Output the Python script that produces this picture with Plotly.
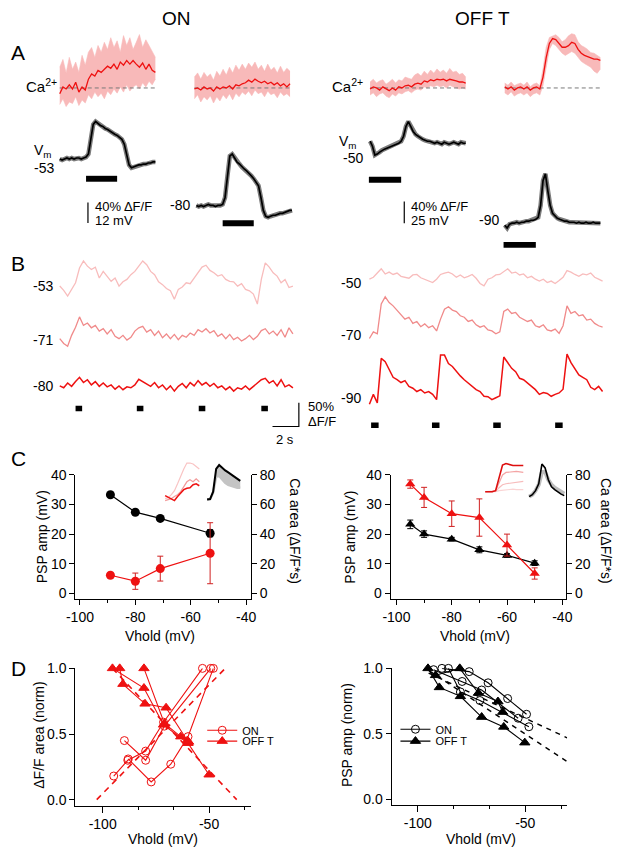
import numpy as np
import plotly.graph_objects as go

W, H = 622, 852
FONT = "Liberation Sans, Arial, Helvetica, sans-serif"
RED = "#ee1111"
BAND_PINK = "#f8b9b9"
LIGHT_PINK = "#f8bcbc"
MID_PINK = "#f08a8a"

# ======================= DATA =======================
# ---- Panel A : averaged responses (Ca in %dF/F, Vm in mV re. holding level)
A_DUR_S = 4.0
A_ON_STIM = [1.1, 2.4]
A_OFF_STIM = [-0.05, 1.3]
A_ON_HOLD = ["-53", "-80"]
A_OFF_HOLD = ["-50", "-90"]
A_ON_SCALE_TXT = ["40% ΔF/F", "12 mV"]
A_OFF_SCALE_TXT = ["40% ΔF/F", "25 mV"]
A_ON_SCALE_MV = 12
A_OFF_SCALE_MV = 25

A_ON_CA53_MEAN = [-11, 2, -2, 6, -2, 11, -8, 2, -4, 17, 27, 23, 34, 30, 36, 42, 38, 46, 36, 50, 44, 53, 46, 53, 46, 40, 48, 36, 46, 34, 30]
A_ON_CA53_HI = [40, 55, 29, 59, 36, 50, 30, 63, 44, 69, 78, 59, 82, 69, 88, 74, 97, 78, 91, 69, 101, 82, 97, 74, 88, 103, 78, 93, 82, 69, 59]
A_ON_CA53_LO = [-32, -21, -36, -27, -30, -17, -34, -23, -29, -13, -21, -8, -17, -10, -21, -6, -13, -2, -10, 2, -8, 6, -6, 2, 6, -2, 10, 2, 13, 6, 17]
A_ON_CA80_MEAN = [-2, 0, -4, 2, -2, 0, -6, 2, -2, 2, 0, 4, -2, 6, 4, 8, 10, 15, 11, 17, 13, 10, 13, 8, 11, 6, 10, 4, 8, 2, 8]
A_ON_CA80_HI = [21, 29, 17, 30, 21, 27, 15, 32, 23, 36, 25, 40, 29, 44, 34, 46, 36, 48, 40, 50, 36, 44, 32, 46, 34, 40, 29, 42, 30, 38, 32]
A_ON_CA80_LO = [-21, -13, -27, -17, -23, -15, -29, -17, -25, -13, -21, -11, -23, -10, -17, -8, -13, -6, -15, -4, -11, -8, -17, -6, -13, -10, -19, -8, -15, -11, -17]
A_OFF_CA50_MEAN = [-2, 2, 0, -4, 2, -2, -5, 0, -4, 2, 0, 4, 5, 2, 7, 9, 7, 13, 11, 15, 13, 16, 15, 16, 13, 16, 15, 13, 11, 11, 9]
A_OFF_CA50_HI = [11, 16, 9, 13, 15, 7, 11, 16, 9, 15, 13, 20, 18, 16, 24, 27, 22, 31, 25, 33, 27, 35, 29, 33, 27, 36, 29, 31, 25, 27, 20]
A_OFF_CA50_LO = [-13, -9, -16, -11, -9, -15, -18, -11, -15, -9, -11, -7, -5, -9, -4, -2, -4, 2, 0, 4, 2, 5, 2, 4, 0, 5, 2, 0, -2, 0, -2]
A_OFF_CA90_MEAN = [2, -2, 2, -4, 0, 2, -2, 2, -4, 0, 2, -2, 20, 56, 82, 91, 89, 82, 75, 75, 78, 84, 82, 71, 64, 60, 58, 56, 53, 53, 51]
A_OFF_CA90_HI = [9, 5, 11, 4, 7, 9, 5, 11, 2, 7, 9, 4, 35, 75, 93, 96, 98, 93, 85, 89, 96, 100, 98, 85, 78, 75, 71, 65, 64, 60, 56]
A_OFF_CA90_LO = [-9, -13, -7, -15, -11, -9, -13, -9, -16, -11, -9, -13, 5, 38, 71, 82, 78, 71, 64, 60, 64, 67, 64, 56, 49, 45, 42, 38, 31, 27, 35]

A_ON_VM53 = [0, -0.6, 0, 0.6, 0, 0.6, 0, 0.6, 0.6, 0, 0.6, 1.1, 2.9, 10.3, 20, 21.7, 20.6, 19.4, 18.9, 17.7, 17.1, 16, 15.4, 14.3, 13.7, 12.6, 11.4, 8.6, 1.7, -3.4, -5.1, -4.6, -4, -3.4, -3.4, -2.9, -2.9, -2.3, -2.3, -1.7, -1.7]
A_ON_VM80 = [0, -0.6, 0, -0.6, 0, 0.6, 0, 0, -0.6, 0, 0, 0.6, 4.6, 17.1, 28.6, 29.7, 27.4, 25.1, 24, 22.3, 21.1, 20, 18.8, 17.1, 15.4, 13.7, 11.4, 4.6, -2.9, -6.3, -6.9, -6.3, -5.7, -5.7, -5.1, -4.6, -4.6, -4, -3.4, -2.9, -2.9]
A_OFF_VM50 = [2.3, -3.4, -13.6, -12.5, -10.2, -8, -6.8, -5.7, -4.5, -3.4, -2.3, -1.1, 0, 2.3, 8, 19.3, 25, 19.3, 13.6, 10.2, 8, 5.7, 4.5, 3.4, 2.3, 2.3, 1.1, 0, 1.1, 0, -1.1, 1.1, 0, -1.1, 0, 1.1, 0, -1.1, 1.1, 0, 0]
A_OFF_VM90 = [-2.3, -5.7, -1.1, 0, 0, 1.1, 0, 1.1, 1.1, 2.3, 2.3, 3.4, 3.4, 4.5, 6.8, 20.5, 48.9, 56.8, 37.5, 20.5, 11.4, 8, 5.7, 4.5, 3.4, 2.3, 2.3, 1.1, 1.1, 1.1, 0, 1.1, 0, 0, 1.1, 0, 0, 1.1, 0, 0, 0]

# ---- Panel B : repeated stimulation, %dF/F, 0.3 s samples
B_DT = 0.3
B_STIM_DUR = 0.5
B_ON_STIM = [1.2, 5.85, 10.55, 15.3]
B_OFF_STIM = [0.13, 4.75, 9.4, 14.1]
B_ON_HOLD = ["-53", "-71", "-80"]
B_OFF_HOLD = ["-50", "-70", "-90"]
B_SCALE_PCT = 50
B_SCALE_S = 2
B_ON_53 = [0, -9, -21, -7, 7, 38, 53, 42, 35, 40, 17, 31, 21, 10, 17, 0, 9, 14, 24, 31, 42, 53, 45, 31, 24, 9, 3, -5, -10, -28, -7, -2, 7, 5, 17, 28, 40, 44, 33, 28, 21, 24, 14, 10, 9, 0, 5, -7, -10, -17, -38, 14, 49, 40, 28, 21, 7, 14, -3, 0]
B_ON_71 = [0, -10, -16, 7, 24, 46, 28, 33, 23, 28, 16, 21, 10, 19, 5, 0, 7, -3, 3, 16, 23, 26, 14, 19, 7, 16, 2, 10, 0, 9, -2, 7, 3, 12, 7, 19, 14, 21, 12, 17, 5, 10, 0, 9, -2, 3, -5, 0, 7, -2, 5, 17, 21, 10, 16, 7, 19, 3, 23, 10]
B_ON_80 = [1, -3, 7, 0, 10, 19, 8, 14, 3, 10, 0, 7, -1, 3, -6, 1, -7, -1, -3, 3, 15, 10, 6, 0, 8, -3, 3, -7, 1, -10, 0, 6, -3, 8, 1, 12, 3, 8, 0, 6, -3, 1, -7, -1, -10, -3, -6, 1, -7, 0, 6, 14, 17, 7, 12, 1, 14, -1, 3, -3]
B_OFF_50 = [-3, 1, 10, 19, 8, 12, 7, 10, 3, 1, -1, 6, 7, 0, -3, -7, -10, -3, 7, 10, 12, 8, 1, 6, 0, 3, 7, -1, -12, -17, -3, 0, 6, 7, 14, 19, 10, 12, 6, 8, 0, 3, -3, -7, -3, -10, -7, -12, -6, 1, 15, 12, 7, 3, 8, 6, 10, 1, -3, -7]
B_OFF_70 = [-17, -3, -7, 56, 71, 59, 52, 43, 35, 24, 28, 15, 19, 8, 14, 6, 10, -1, 24, 45, 50, 43, 40, 31, 28, 19, 22, 12, 7, 10, 1, -1, -7, -3, 40, 45, 36, 38, 28, 24, 19, 22, 10, 7, 12, 1, -1, 3, -6, 10, 52, 36, 40, 31, 33, 22, 24, 15, 10, 7]
B_OFF_90 = [-24, -3, -21, 73, 66, 49, 33, 28, 22, 26, 14, 10, 3, 7, 0, 3, -3, -14, 80, 80, 62, 56, 45, 36, 28, 21, 14, 7, 3, -7, -8, -14, -10, -6, 76, 64, 52, 45, 31, 28, 21, 14, 7, -3, 1, -1, -7, -3, 0, 8, 82, 64, 52, 38, 33, 28, 12, 7, 14, 3]

# ---- Panel C : PSP amplitude (mV) and Ca area (%dF/F*s) vs holding potential
C_ON_VHOLD = [-89, -80, -71, -53]
C_ON_PSP = [33.3, 27.4, 25.3, 20.3]
C_ON_PSP_ERR = [0, 0, 0, 1.2]
C_ON_CA = [12.2, 8.2, 16.7, 27.1]
C_ON_CA_ERR = [0, 5.5, 8.4, 20.6]
C_OFF_VHOLD = [-95, -90, -80, -70, -60, -50]
C_OFF_PSP = [23.3, 20.0, 18.3, 14.7, 12.8, 10.2]
C_OFF_PSP_ERR = [1.45, 1.1, 0.6, 1.0, 0.6, 0.8]
C_OFF_CA = [73.8, 64.8, 53.8, 51.2, 32.6, 13.4]
C_OFF_CA_ERR = [2.8, 6.8, 8.6, 12.6, 7.4, 3.8]
C_X_TICKS = [-100, -80, -60, -40]
C_X_TICKTEXT = ["-100", "-80", "-60", "-40"]
C_X_MINOR = [-90, -70, -50]
C_PSP_TICKS = [0, 10, 20, 30, 40]
C_CA_TICKS = [0, 20, 40, 60, 80]
# insets (arbitrary units)
C_ON_INS_CA_LIGHT = [6, 8, 14, 22, 36, 52, 66, 78, 78, 76, 70, 66]
C_ON_INS_CA_MID = [2, 4, 6, 10, 14, 20, 30, 40, 44, 40, 46, 40]
C_ON_INS_CA_RED = [12, 9, 5, 2, 10, 16, 24, 27, 28, 34, 36, 32]
C_ON_INS_VM = [4, 5, 20, 66, 74, 68, 63, 59, 55, 51, 46, 42]
C_ON_INS_VM_GRAY = [4, 5, 18, 50, 52, 44, 38, 34, 32, 30, 28, 28]
C_OFF_INS_CA_RED = [0, 0, 0, 2, 30, 54, 57, 55, 53, 53, 53, 53]
C_OFF_INS_CA_P1 = [0, 0, 0, 2, 18, 34, 39, 40, 40, 41, 40, 39]
C_OFF_INS_CA_P2 = [0, 0, 0, 1, 8, 14, 16, 17, 18, 19, 20, 21]
C_OFF_INS_CA_P3 = [0, 0, 0, 0, 2, 3, 4, 5, 5, 4, 4, 4]
C_OFF_INS_VM = [2, 6, 14, 28, 68, 60, 36, 22, 16, 11, 7, 4]
C_OFF_INS_VM_GRAY = [2, 6, 14, 26, 52, 52, 36, 26, 20, 16, 12, 8]

# ---- Panel D : normalised values per cell
D_LEFT_ON_X = [[-94.8, -88.2, -79.8, -71.4, -53.1], [-89.8, -79.8, -71.0, -49.2], [-88.0, -77.2, -68.0, -59.9, -48.0]]
D_LEFT_ON_Y = [[0.18, 0.30, 0.37, 0.59, 1.0], [0.45, 0.30, 0.56, 1.0], [0.31, 0.135, 0.27, 0.48, 1.0]]
D_LEFT_OFF_X = [[-95.4, -80.6, -71.4, -59.9, -50.0], [-92.0, -90.5, -80.1, -70.2, -60.2], [-80.6, -71.0, -63.3, -59.6]]
D_LEFT_OFF_Y = [[1.0, 0.85, 0.57, 0.43, 0.19], [1.0, 0.88, 0.73, 0.70, 0.45], [1.0, 0.58, 0.48, 0.44]]
D_LEFT_FIT_ON = ([-102.8, -42.4], [0.0, 1.0])
D_LEFT_FIT_OFF = ([-95.4, -37.0], [1.0, 0.0])
D_RIGHT_ON_X = [[-92.7, -79.4, -70.3, -53.3], [-88.8, -76.1, -67.3, -58.2, -49.4], [-85.8, -80.2, -71.1, -48.3]]
D_RIGHT_ON_Y = [[0.99, 0.90, 0.835, 0.62], [1.0, 0.975, 0.89, 0.77, 0.65], [1.0, 0.82, 0.755, 0.555]]
D_RIGHT_OFF_X = [[-95.3, -90.0, -80.2, -70.3, -60.0, -50.2], [-91.8, -80.5, -71.8, -62.7, -60.5]]
D_RIGHT_OFF_Y = [[1.0, 0.855, 0.787, 0.629, 0.554, 0.434], [0.947, 1.0, 0.812, 0.747, 0.667]]
D_RIGHT_FIT_1 = ([-95.0, -30.5], [0.964, 0.471])
D_RIGHT_FIT_2 = ([-95.0, -30.5], [0.985, 0.29])
D_X_TICKS = [-100, -50]
D_X_TICKTEXT = ["-100", "-50"]
D_X_MINOR = [-83.333, -66.667, -33.333]
D_Y_TICKS = [0, 0.5, 1.0]
D_Y_TICKTEXT = ["0.0", "0.5", "1.0"]

# ======================= BUILD =======================
fig = go.Figure()
layout = {}
shapes = []
annotations = []
ax_count = {"x": 0, "y": 0}
HIDDEN = dict(visible=False, showgrid=False, zeroline=False, fixedrange=True)


def _name(kind):
    ax_count[kind] += 1
    n = ax_count[kind]
    if n == 1:
        return kind, kind + "axis"
    return f"{kind}{n}", f"{kind}axis{n}"


def make_axes(xbox, ybox, xrange, yrange, xstyle=None, ystyle=None):
    xref, xkey = _name("x")
    yref, ykey = _name("y")
    xa = dict(HIDDEN) if xstyle is None else dict(xstyle)
    ya = dict(HIDDEN) if ystyle is None else dict(ystyle)
    xa.update(domain=[xbox[0] / W, xbox[1] / W], range=list(xrange), anchor=yref)
    ya.update(domain=[1 - ybox[1] / H, 1 - ybox[0] / H], range=list(yrange), anchor=xref)
    layout[xkey] = xa
    layout[ykey] = ya
    return xref, yref


def overlay_y(xref, ymain, yrange, ystyle):
    yref, ykey = _name("y")
    ya = dict(ystyle)
    ya.update(range=list(yrange), overlaying=ymain, side="right", anchor=xref)
    layout[ykey] = ya
    return yref


def trace_axes(xbox, ybox, t_px0, t_per_px, v_px0, v_per_px):
    xr = [(xbox[0] - t_px0) * t_per_px, (xbox[1] - t_px0) * t_per_px]
    yr = [(v_px0 - ybox[1]) * v_per_px, (v_px0 - ybox[0]) * v_per_px]
    return make_axes(xbox, ybox, xr, yr)


def axis_style(tickvals, ticktext, minor_vals=None, ticklen=5):
    d = dict(visible=True, showline=True, linecolor="black", linewidth=1, ticks="outside",
             ticklen=ticklen, tickwidth=1, tickcolor="black", showgrid=False, zeroline=False,
             fixedrange=True, tickmode="array", tickvals=tickvals, ticktext=ticktext,
             tickfont=dict(family=FONT, size=14, color="black"))
    if minor_vals:
        d["minor"] = dict(tickmode="array", tickvals=minor_vals, ticks="outside", ticklen=3,
                          tickwidth=1, tickcolor="black", showgrid=False)
    return d


def line(xa, ya, x, y, color, width=1.0, dash=None, **kw):
    fig.add_trace(go.Scatter(x=x, y=y, mode="lines", line=dict(color=color, width=width, dash=dash),
                             xaxis=xa, yaxis=ya, showlegend=False, hoverinfo="skip", **kw))


def text(s, px, py, size=14, xanchor="center", yanchor="middle", angle=0):
    annotations.append(dict(text=s, x=px / W, y=1 - py / H, xref="paper", yref="paper",
                            showarrow=False, xanchor=xanchor, yanchor=yanchor, textangle=angle,
                            font=dict(family=FONT, size=size, color="black")))


def bar(xa, t0, t1, py0, py1):
    shapes.append(dict(type="rect", xref=xa, yref="paper", x0=t0, x1=t1, y0=1 - py1 / H,
                       y1=1 - py0 / H, fillcolor="black", line=dict(width=0), layer="above"))


# ---------- Panel A ----------
T_PER_PX_A = A_DUR_S / 98.0
ca_t = np.linspace(0, A_DUR_S, len(A_ON_CA53_MEAN))
vm_t = np.linspace(0, A_DUR_S, len(A_ON_VM53))


def ca_panel(x0px, v_per_px, mean, hi, lo):
    xa, ya = trace_axes((x0px - 4, x0px + 104), (18, 112), x0px, T_PER_PX_A, 81, v_per_px)
    line(xa, ya, ca_t, hi, BAND_PINK, 0.6)
    line(xa, ya, ca_t, lo, BAND_PINK, 0.6, fill="tonexty", fillcolor=BAND_PINK)
    line(xa, ya, [0, A_DUR_S], [0, 0], "#7a7a7a", 1.0, dash="4px,3px")
    line(xa, ya, ca_t, mean, RED, 1.3)


def vm_panel(x0px, v0px, v_per_px, ybox, vm, stim, bar_py):
    xa, ya = trace_axes((x0px - 12, x0px + 110), ybox, x0px, T_PER_PX_A, v0px, v_per_px)
    line(xa, ya, vm_t, vm, "#7c7c7c", 4.5)
    line(xa, ya, vm_t, vm, "black", 1.7)
    bar(xa, stim[0], stim[1], bar_py, bar_py + 6)
    return xa, ya


ca_panel(52, 40 / 21, A_ON_CA53_MEAN, A_ON_CA53_HI, A_ON_CA53_LO)
ca_panel(190, 40 / 21, A_ON_CA80_MEAN, A_ON_CA80_HI, A_ON_CA80_LO)
ca_panel(370, 40 / 22, A_OFF_CA50_MEAN, A_OFF_CA50_HI, A_OFF_CA50_LO)
ca_panel(508, 40 / 22, A_OFF_CA90_MEAN, A_OFF_CA90_HI, A_OFF_CA90_LO)

xa, ya = vm_panel(52, 153, 12 / 21, (100, 232), A_ON_VM53, A_ON_STIM, 170)
line(xa, ya, [1.18, 1.18], [-37.1, -37.1 + A_ON_SCALE_MV], "black", 1.2)
vm_panel(192, 200, 12 / 21, (130, 232), A_ON_VM80, A_ON_STIM, 215)
xa, ya = vm_panel(370, 137, 25 / 22, (100, 232), A_OFF_VM50, A_OFF_STIM, 171)
line(xa, ya, [1.43, 1.43], [-92.0, -92.0 + A_OFF_SCALE_MV], "black", 1.2)
vm_panel(508, 218, 25 / 22, (150, 250), A_OFF_VM90, A_OFF_STIM, 237)

# ---------- Panel B ----------
B_T_PER_PX = B_SCALE_S / 27.0
B_V_PER_PX = B_SCALE_PCT / 24.0
b_t = np.arange(len(B_ON_53)) * B_DT


def b_trace(x0px, v0px, ybox, vals, color, width):
    xa, ya = trace_axes((x0px - 8, x0px + 250), ybox, x0px, B_T_PER_PX, v0px, B_V_PER_PX)
    line(xa, ya, b_t, vals, color, width)
    return xa, ya


b_trace(52, 281.7, (245, 306), B_ON_53, LIGHT_PINK, 1.3)
b_trace(52, 335.0, (288, 362), B_ON_71, MID_PINK, 1.3)
xa, ya = b_trace(52, 383.3, (360, 440), B_ON_80, RED, 1.5)
for s in B_ON_STIM:
    bar(xa, s, s + B_STIM_DUR, 403, 408.5)
sb_end, sb_y0 = 18.15, -84.7
line(xa, ya, [sb_end - B_SCALE_S, sb_end, sb_end], [sb_y0, sb_y0, sb_y0 + B_SCALE_PCT], "black", 1.2)

b_trace(369.3, 273.3, (254, 292), B_OFF_50, LIGHT_PINK, 1.3)
b_trace(369.3, 326.7, (284, 346), B_OFF_70, MID_PINK, 1.3)
xa, ya = b_trace(369.3, 390.0, (340, 430), B_OFF_90, RED, 1.5)
for s in B_OFF_STIM:
    bar(xa, s, s + 0.57, 420, 425.5)

# ---------- Panel C ----------
cst_x = axis_style(C_X_TICKS, C_X_TICKTEXT, C_X_MINOR)
cst_psp = axis_style(C_PSP_TICKS, [str(v) for v in C_PSP_TICKS])
cst_ca = axis_style(C_CA_TICKS, [str(v) for v in C_CA_TICKS])


def c_panel(xbox, xrange, vh, psp, psp_err, ca, ca_err, symbol):
    xa, ya = make_axes(xbox, (473, 599), xrange, [-2, 40], cst_x, cst_psp)
    ya2 = overlay_y(xa, ya, [-4, 80], cst_ca)
    fig.add_trace(go.Scatter(x=vh, y=psp, mode="lines+markers", xaxis=xa, yaxis=ya,
                             line=dict(color="black", width=1.2),
                             marker=dict(symbol=symbol, size=9, color="black"),
                             error_y=dict(type="data", array=psp_err, color="black", thickness=1, width=3),
                             showlegend=False, hoverinfo="skip", cliponaxis=False))
    fig.add_trace(go.Scatter(x=vh, y=ca, mode="lines+markers", xaxis=xa, yaxis=ya2,
                             line=dict(color=RED, width=1.2),
                             marker=dict(symbol=symbol, size=9, color=RED),
                             error_y=dict(type="data", array=ca_err, color="#d02020", thickness=1, width=3),
                             showlegend=False, hoverinfo="skip", cliponaxis=False))


c_panel((68, 248), [-101.66, -38.23], C_ON_VHOLD, C_ON_PSP, C_ON_PSP_ERR, C_ON_CA, C_ON_CA_ERR, "circle")
c_panel((391, 571), [-102.12, -38.58], C_OFF_VHOLD, C_OFF_PSP, C_OFF_PSP_ERR, C_OFF_CA, C_OFF_CA_ERR, "triangle-up")

ins_t = np.arange(len(C_ON_INS_CA_RED))
xa, ya = trace_axes((156, 199), (455, 505), 160, 11 / 35, 500, 2)
line(xa, ya, ins_t, C_ON_INS_CA_LIGHT, "#f9c4c4", 1.2)
line(xa, ya, ins_t, C_ON_INS_CA_MID, "#f29a9a", 1.2)
line(xa, ya, ins_t, C_ON_INS_CA_RED, RED, 1.5)
xa, ya = trace_axes((199, 242), (455, 505), 203, 11 / 34, 500, 2)
line(xa, ya, ins_t, C_ON_INS_VM, "#c4c4c4", 0.5)
line(xa, ya, ins_t, C_ON_INS_VM_GRAY, "#c4c4c4", 2.5, fill="tonexty", fillcolor="#c4c4c4")
line(xa, ya, ins_t, C_ON_INS_VM, "black", 2)
xa, ya = trace_axes((484, 531), (455, 496), 488, 11 / 39, 490, 2)
line(xa, ya, ins_t, C_OFF_INS_CA_P3, "#fad4d4", 1.2)
line(xa, ya, ins_t, C_OFF_INS_CA_P2, "#f7bcbc", 1.2)
line(xa, ya, ins_t, C_OFF_INS_CA_P1, "#f4a4a4", 1.2)
line(xa, ya, ins_t, C_OFF_INS_CA_RED, "#dd0f0f", 1.6)
xa, ya = trace_axes((530, 571), (455, 500), 533, 11 / 36, 496, 2)
line(xa, ya, ins_t, C_OFF_INS_VM_GRAY, "#bdbdbd", 4)
line(xa, ya, ins_t, C_OFF_INS_VM, "black", 1.6)

# ---------- Panel D ----------
dst_x = axis_style(D_X_TICKS, D_X_TICKTEXT, D_X_MINOR, ticklen=6)
dst_y = axis_style(D_Y_TICKS, D_Y_TICKTEXT)


def d_cells(xa, ya, xs, ys, color, symbol, name, legend):
    for i, (x, y) in enumerate(zip(xs, ys)):
        fig.add_trace(go.Scatter(
            x=x, y=y, mode="lines+markers", xaxis=xa, yaxis=ya, name=name, legend=legend,
            showlegend=(i == 0), hoverinfo="skip", cliponaxis=False,
            line=dict(color=color, width=1.1),
            marker=dict(symbol=symbol, size=8 if "circle" in symbol else 9, color=color,
                        line=dict(width=1, color=color))))


xa, ya = make_axes((68, 248), (669, 808), [-112.84, -30.28], [-0.045, 1.0], dst_x, dst_y)
line(xa, ya, *D_LEFT_FIT_ON, RED, 1.6, dash="6px,5px")
line(xa, ya, *D_LEFT_FIT_OFF, RED, 1.6, dash="6px,5px")
d_cells(xa, ya, D_LEFT_ON_X, D_LEFT_ON_Y, RED, "circle-open", "ON", "legend")
d_cells(xa, ya, D_LEFT_OFF_X, D_LEFT_OFF_Y, RED, "triangle-up", "OFF T", "legend2")

xa, ya = make_axes((392, 572), (669, 807), [-112.27, -30.45], [-0.038, 1.0], dst_x, dst_y)
line(xa, ya, *D_RIGHT_FIT_1, "black", 1.4, dash="5px,5px")
line(xa, ya, *D_RIGHT_FIT_2, "black", 1.4, dash="5px,5px")
d_cells(xa, ya, D_RIGHT_ON_X, D_RIGHT_ON_Y, "black", "circle-open", "ON", "legend3")
d_cells(xa, ya, D_RIGHT_OFF_X, D_RIGHT_OFF_Y, "black", "triangle-up", "OFF T", "legend4")

# ---------- Text ----------
text("ON", 172, 11, 19)
text("OFF T", 485, 11, 19)
for letter, py in (("A", 45), ("B", 259), ("C", 456), ("D", 669)):
    text(letter, 0, py, 21, xanchor="left")

text("Ca<sup>2+</sup>", 51, 79, 15, xanchor="right")
text("Ca<sup>2+</sup>", 365, 79, 15, xanchor="right")
text("V<sub>m</sub>", 35, 145, 14)
text(A_ON_HOLD[0], 36, 162, 14)
text(A_ON_HOLD[1], 175, 200, 14)
text("V<sub>m</sub>", 347, 136, 14)
text(A_OFF_HOLD[0], 353, 152, 14)
text(A_OFF_HOLD[1], 492, 215, 14)
text(A_ON_SCALE_TXT[0], 86, 201, 13, xanchor="left")
text(A_ON_SCALE_TXT[1], 86, 215, 13, xanchor="left")
text(A_OFF_SCALE_TXT[0], 410, 201, 13, xanchor="left")
text(A_OFF_SCALE_TXT[1], 410, 215, 13, xanchor="left")

for lab, py in zip(B_ON_HOLD, (282, 336, 383)):
    text(lab, 47, py, 14, xanchor="right")
for lab, py in zip(B_OFF_HOLD, (279, 331, 395)):
    text(lab, 363, py, 14, xanchor="right")
text(f"{B_SCALE_PCT}%", 304, 404, 13, xanchor="left")
text("ΔF/F", 304, 419, 13, xanchor="left")
text(f"{B_SCALE_S} s", 283, 437, 13)

text("PSP amp (mV)", 34, 536, 14, angle=-90)
text("Ca area (ΔF/F*s)", 293, 530, 14, angle=90)
text("Vhold (mV)", 155, 636, 14)
text("PSP amp (mV)", 349, 536, 14, angle=-90)
text("Ca area (ΔF/F*s)", 612, 530, 14, angle=90)
text("Vhold (mV)", 478, 636, 14)

text("ΔF/F area (norm)", 31, 737, 14, angle=-90)
text("Vhold (mV)", 158, 842, 14)
text("PSP amp (norm)", 347, 737, 14, angle=-90)
text("Vhold (mV)", 484, 842, 14)

leg = dict(xanchor="left", yanchor="top", bgcolor="rgba(0,0,0,0)", borderwidth=0,
           font=dict(family=FONT, size=11, color="black"), itemwidth=30, tracegroupgap=0)
layout["legend"] = dict(leg, x=198 / W, y=1 - 717 / H)
layout["legend2"] = dict(leg, x=198 / W, y=1 - 728 / H)
layout["legend3"] = dict(leg, x=396 / W, y=1 - 716 / H)
layout["legend4"] = dict(leg, x=396 / W, y=1 - 728 / H)

fig.update_layout(
    width=W, height=H, margin=dict(l=0, r=0, t=0, b=0, pad=0),
    paper_bgcolor="white", plot_bgcolor="rgba(0,0,0,0)",
    font=dict(family=FONT, size=14, color="black"),
    showlegend=True, shapes=shapes, annotations=annotations, hovermode=False,
    **layout)

fig.write_html("out.html", config={"displayModeBar": False},
               post_script="document.body.style.margin='0px';document.body.style.overflow='hidden';")
